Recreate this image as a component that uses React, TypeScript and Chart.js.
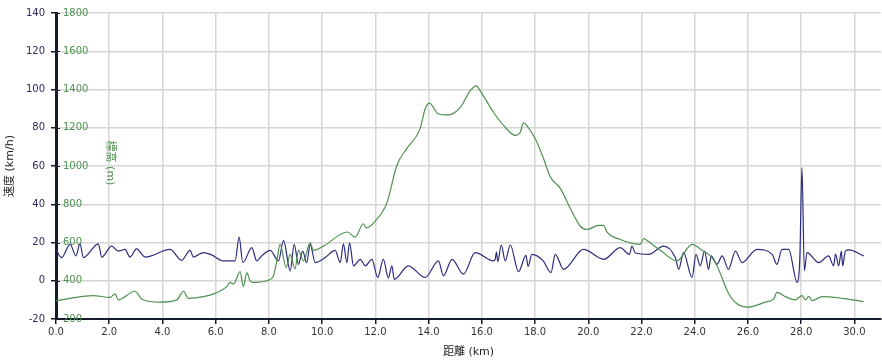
import React, { useEffect, useRef } from 'react';
import { Chart, registerables } from 'chart.js';

Chart.register(...registerables);

// ---- data ----
const speedKm = [
  0.0, 0.21, 0.53, 0.75, 0.9, 1.03, 1.59, 1.72, 2.09, 2.34, 2.59, 2.78, 3.03, 3.35, 4.29, 4.72, 5.04, 5.16, 5.54, 5.85,
  6.29, 6.73, 6.88, 7.02, 7.36, 7.54, 7.73, 8.05, 8.36, 8.55, 8.8, 8.95, 9.11, 9.27, 9.42, 9.55, 9.74, 10.11, 10.49, 10.68,
  10.8, 10.93, 11.03, 11.18, 11.43, 11.62, 11.87, 12.09, 12.3, 12.49, 12.62, 12.71, 13.24, 13.87, 14.37, 14.56, 14.88, 15.31, 15.75, 16.44,
  16.5, 16.55, 16.6, 16.73, 16.88, 17.07, 17.38, 17.66, 17.74, 17.88, 18.3, 18.6, 18.76, 19.07, 19.82, 20.58, 21.2, 21.55, 21.64, 21.77,
  22.27, 22.83, 23.27, 23.4, 23.58, 23.9, 24.05, 24.21, 24.37, 24.52, 24.62, 24.84, 25.03, 25.27, 25.53, 25.78, 26.34, 26.91, 27.09, 27.28,
  27.53, 27.85, 27.95, 28.03, 28.12, 28.22, 28.66, 29.03, 29.22, 29.29, 29.41, 29.51, 29.56, 29.66, 29.79, 30.35,
];
const speedKmh = [
  16.4, 12.1, 19.0, 13.0, 19.3, 12.1, 19.3, 12.4, 18.1, 15.5, 16.4, 12.4, 16.7, 12.4, 16.4, 10.7, 15.9, 12.4, 14.7, 13.5,
  10.4, 10.4, 22.8, 9.5, 17.3, 10.4, 13.0, 15.9, 10.4, 21.1, 5.2, 19.0, 8.6, 15.5, 9.5, 19.0, 9.5, 12.1, 15.9, 9.5,
  19.3, 9.5, 19.8, 7.8, 11.2, 7.8, 11.2, 1.7, 11.2, 1.4, 7.8, 0.7, 7.8, 1.7, 10.4, 2.6, 11.2, 3.5, 14.7, 10.4,
  11.0, 15.0, 10.0, 18.7, 10.4, 18.7, 4.7, 13.3, 7.5, 13.8, 10.5, 4.3, 13.8, 6.0, 16.4, 11.2, 17.3, 13.8, 18.1, 14.5,
  13.8, 18.1, 12.1, 6.0, 14.7, 1.7, 13.8, 7.8, 15.5, 6.0, 13.0, 8.6, 13.0, 6.0, 15.5, 9.5, 16.4, 13.8, 8.6, 16.4,
  16.4, -0.9, 12.0, 59.1, 5.2, 14.7, 9.5, 13.0, 7.8, 14.0, 7.8, 15.5, 7.8, 15.5, 16.1, 13.0,
];

const elevKm = [
  0.0, 1.4, 2.03, 2.22, 2.34, 2.97, 3.22, 3.91, 4.54, 4.79, 4.97, 5.54, 5.98, 6.42, 6.54, 6.67, 6.92, 7.04, 7.17, 7.29,
  7.42, 7.92, 8.17, 8.3, 8.42, 8.65, 8.8, 8.98, 9.11, 9.3, 9.55, 9.67, 10.05, 10.95, 11.24, 11.55, 11.65, 11.99, 12.43, 12.81,
  13.18, 13.68, 13.87, 14.03, 14.37, 14.75, 15.19, 15.56, 15.79, 15.94, 16.44, 16.82, 17.26, 17.44, 17.57, 17.7, 18.01, 18.32, 18.57, 18.95,
  19.32, 19.7, 19.95, 20.39, 20.58, 20.7, 21.2, 21.95, 22.08, 22.21, 22.71, 23.33, 23.9, 24.27, 24.65, 24.87, 25.25, 25.55, 26.0, 26.65,
  26.97, 27.09, 27.41, 27.78, 28.03, 28.16, 28.29, 28.41, 28.79, 29.54, 30.35,
];
const elevM = [
  296, 322, 313, 331, 300, 345, 305, 288, 300, 345, 308, 317, 334, 369, 391, 383, 448, 369, 443, 400,
  391, 400, 426, 504, 590, 469, 538, 461, 559, 504, 598, 559, 581, 655, 628, 698, 676, 711, 806, 1004,
  1091, 1194, 1298, 1329, 1272, 1267, 1306, 1393, 1419, 1393, 1281, 1212, 1160, 1175, 1225, 1210, 1142, 1039, 944, 883,
  780, 685, 668, 690, 690, 655, 616, 590, 621, 610, 559, 504, 590, 560, 521, 468, 340, 284, 262, 288,
  305, 339, 317, 300, 322, 300, 319, 296, 317, 308, 291,
];

const xTitle = '距離 (km)';
const speedTitle = '速度 (km/h)';
const elevTitle = '標高 (m)';

const FONT = "'DejaVu Sans', 'Noto Sans CJK JP', sans-serif";
const NAVY = '#2c2c7c';
const GREEN = '#4f9150';
const AXIS_DARK = '#141c2c';
const GRID = '#d6d6d6';

const elevDecor = {
  id: 'elevDecor',
  afterDraw(chart: any) {
    const { ctx, chartArea, scales } = chart;
    const y2 = scales.y2;
    ctx.save();
    ctx.strokeStyle = AXIS_DARK;
    ctx.lineWidth = 1;
    y2.ticks.forEach((_t: any, i: number) => {
      const y = Math.round(y2.getPixelForTick(i)) + 0.5;
      ctx.beginPath();
      ctx.moveTo(chartArea.left, y);
      ctx.lineTo(chartArea.left + 4, y);
      ctx.stroke();
    });
    ctx.translate(chartArea.left + 54, (chartArea.top + chartArea.bottom) / 2 - 3);
    ctx.rotate(Math.PI / 2);
    ctx.fillStyle = GREEN;
    ctx.font = `11px ${FONT}`;
    ctx.textAlign = 'center';
    ctx.textBaseline = 'middle';
    ctx.fillText(elevTitle, 0, 0);
    ctx.restore();
  },
};

export default function App() {
  const ref = useRef<HTMLCanvasElement | null>(null);

  useEffect(() => {
    if (!ref.current) return;
    const chart = new Chart(ref.current, {
      type: 'line',
      data: {
        datasets: [
          {
            label: '標高',
            data: elevKm.map((x, i) => ({ x, y: elevM[i] })),
            yAxisID: 'y2',
            borderColor: GREEN,
            borderWidth: 1.2,
            pointRadius: 0,
            cubicInterpolationMode: 'monotone',
            fill: false,
          },
          {
            label: '速度',
            data: speedKm.map((x, i) => ({ x, y: speedKmh[i] })),
            yAxisID: 'y',
            borderColor: NAVY,
            borderWidth: 1.2,
            pointRadius: 0,
            cubicInterpolationMode: 'monotone',
            fill: false,
          },
        ],
      },
      options: {
        responsive: false,
        animation: false,
        layout: { padding: { top: 7, right: 1, bottom: 0, left: 0 } },
        plugins: { legend: { display: false }, tooltip: { enabled: false } },
        scales: {
          x: {
            type: 'linear',
            min: 0,
            max: 31,
            afterFit: (s: any) => { s.height = 44; },
            ticks: {
              stepSize: 2,
              includeBounds: false,
              padding: 2,
              color: '#333',
              font: { family: FONT, size: 10 },
              maxRotation: 0,
              callback: (v: any) => Number(v).toFixed(1),
            },
            grid: { color: GRID, lineWidth: 1.5, tickLength: 5, tickColor: AXIS_DARK },
            border: { color: AXIS_DARK, width: 2 },
            title: { display: true, text: xTitle, color: '#222', font: { family: FONT, size: 11 }, padding: { top: 4, bottom: 4 } },
          },
          y: {
            position: 'left',
            weight: 1,
            min: -20,
            max: 140,
            afterFit: (s: any) => { s.width = 56; },
            ticks: { stepSize: 20, padding: 6, color: '#2a2a5a', font: { family: FONT, size: 10 } },
            grid: { color: GRID, lineWidth: 1.5, tickLength: 5, tickColor: AXIS_DARK },
            border: { color: AXIS_DARK, width: 3 },
            title: { display: true, text: speedTitle, color: '#222', font: { family: FONT, size: 11 }, padding: { top: 4, bottom: 4 } },
          },
          y2: {
            position: 'left',
            weight: 0,
            min: 200,
            max: 1800,
            afterFit: (s: any) => { s.width = 0; },
            ticks: {
              stepSize: 200,
              mirror: true,
              padding: 7,
              color: GREEN,
              font: { family: FONT, size: 10 },
              callback: (v: any) => String(v),
            },
            grid: { display: false, drawTicks: false, drawOnChartArea: false },
            border: { display: false },
          },
        },
      },
      plugins: [elevDecor],
    } as any);
    return () => chart.destroy();
  }, []);

  return (
    <div style={{ position: 'fixed', left: 0, top: 0, width: 882, height: 363, background: '#fff' }}>
      <canvas ref={ref} width={882} height={363} style={{ display: 'block' }} />
    </div>
  );
}
